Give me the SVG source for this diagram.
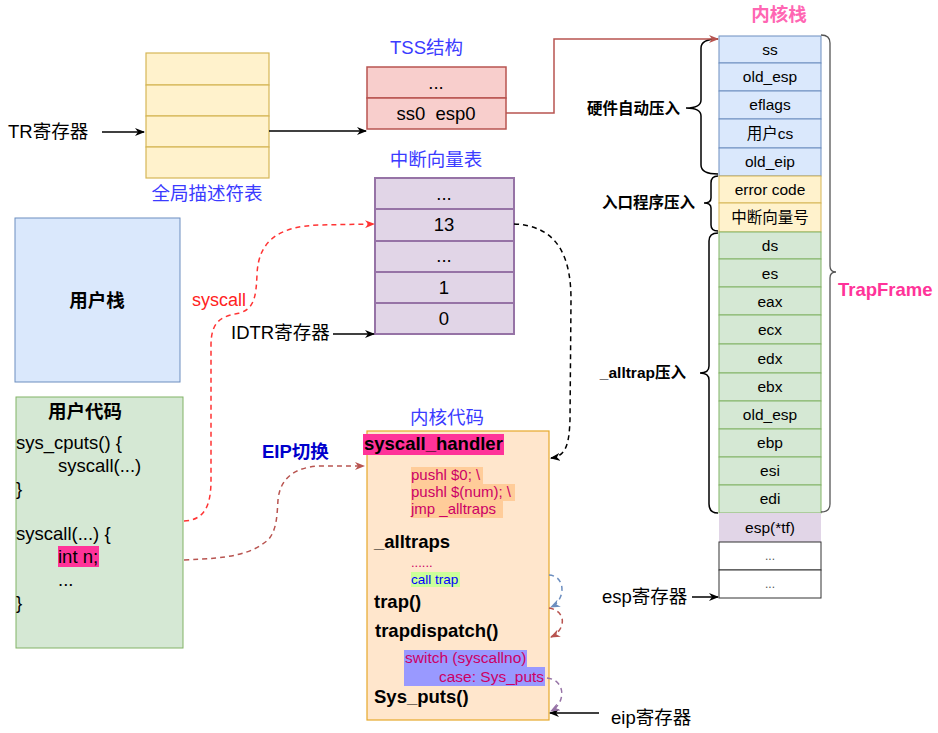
<svg xmlns="http://www.w3.org/2000/svg" width="938" height="733" viewBox="0 0 938 733">
<style>
text{font-family:"Liberation Sans","Noto Sans CJK SC",sans-serif;fill:#000}
.t18{font-size:18.5px}
.b18{font-size:18.5px;font-weight:bold}
.ks{font-size:15.5px;text-anchor:middle}
.bl{fill:#3b3bff}
.mid{text-anchor:middle}
.kc{font-size:15px;fill:#cc0066}
.lbl{font-size:15.5px;font-weight:bold;text-anchor:end}
.gdt{fill:#fff2cc;stroke:#d6b656;stroke-width:1.2}
.tss{fill:#f8cecc;stroke:#b85450;stroke-width:1.5}
.idt{fill:#e1d5e7;stroke:#9673a6;stroke-width:2}
.sb{fill:#dae8fc;stroke:#6c8ebf}
.sy{fill:#fff2cc;stroke:#d6b656}
.sg{fill:#d5e8d4;stroke:#82b366}
.sw{fill:#fff;stroke:#333}
.brace{fill:none;stroke:#000;stroke-width:1.5}
.ln{fill:none;stroke:#000;stroke-width:1.5}
.dsh{fill:none;stroke-width:1.5;stroke-dasharray:5 4}
</style>
<defs>
<marker id="aBlack" viewBox="0 0 10 8" refX="9" refY="4" markerWidth="10" markerHeight="8" markerUnits="userSpaceOnUse" orient="auto"><path d="M0,0 L10,4 L0,8 L3,4 Z" fill="#000"/></marker>
<marker id="aTss" viewBox="0 0 10 8" refX="9" refY="4" markerWidth="10" markerHeight="8" markerUnits="userSpaceOnUse" orient="auto"><path d="M0,0 L10,4 L0,8 L3,4 Z" fill="#b85450"/></marker>
<marker id="aRed" viewBox="0 0 10 8" refX="9" refY="4" markerWidth="10" markerHeight="8" markerUnits="userSpaceOnUse" orient="auto"><path d="M0,0 L10,4 L0,8 L3,4 Z" fill="#ff3333"/></marker>
<marker id="aBrown" viewBox="0 0 10 8" refX="9" refY="4" markerWidth="10" markerHeight="8" markerUnits="userSpaceOnUse" orient="auto"><path d="M0,0 L10,4 L0,8 L3,4 Z" fill="#b85450"/></marker>
<marker id="aBlue" viewBox="0 0 10 8" refX="9" refY="4" markerWidth="10" markerHeight="8" markerUnits="userSpaceOnUse" orient="auto"><path d="M0,0 L10,4 L0,8 L3,4 Z" fill="#6c8ebf"/></marker>
<marker id="aPurple" viewBox="0 0 10 8" refX="9" refY="4" markerWidth="10" markerHeight="8" markerUnits="userSpaceOnUse" orient="auto"><path d="M0,0 L10,4 L0,8 L3,4 Z" fill="#9673a6"/></marker>
<marker id="aOpen" viewBox="0 0 10 8" refX="9" refY="4" markerWidth="10" markerHeight="8" markerUnits="userSpaceOnUse" orient="auto"><path d="M0,0 L10,4 L0,8 L3,4 Z" fill="#000"/></marker>
</defs>
<rect width="938" height="733" fill="#fff"/>

<g id="tr">
<text class="t18" x="8" y="138">TR寄存器</text>
</g>

<g id="gdt">
<rect class="gdt" x="146" y="53" width="123" height="32"/>
<rect class="gdt" x="146" y="85" width="123" height="31"/>
<rect class="gdt" x="146" y="116" width="123" height="31"/>
<rect class="gdt" x="146" y="147" width="123" height="31"/>
<text class="t18 bl mid" x="207" y="200">全局描述符表</text>
</g>

<g id="tss">
<text class="t18 bl" x="390" y="54">TSS结构</text>
<rect class="tss" x="367" y="67" width="139" height="31"/>
<rect class="tss" x="367" y="98" width="139" height="31"/>
<text class="t18 mid" x="436" y="89">...</text>
<text class="t18 mid" x="436" y="120" style="white-space:pre">ss0  esp0</text>
</g>

<g id="idt">
<text class="t18 bl mid" x="436" y="166">中断向量表</text>
<rect class="idt" x="375" y="178" width="139" height="31"/>
<rect class="idt" x="375" y="209" width="139" height="32"/>
<rect class="idt" x="375" y="241" width="139" height="31"/>
<rect class="idt" x="375" y="272" width="139" height="31"/>
<rect class="idt" x="375" y="303" width="139" height="31"/>
<text class="t18 mid" x="444" y="200">...</text>
<text class="t18 mid" x="444" y="231">13</text>
<text class="t18 mid" x="444" y="262">...</text>
<text class="t18 mid" x="444" y="294">1</text>
<text class="t18 mid" x="444" y="325">0</text>
</g>

<g id="idtr">
<text class="t18" x="231" y="339">IDTR寄存器</text>
</g>

<g id="userstack">
<rect x="15" y="218" width="165" height="164" fill="#dae8fc" stroke="#6c8ebf"/>
<text class="b18 mid" x="97" y="307">用户栈</text>
</g>

<g id="usercode">
<rect x="16" y="397" width="167" height="251" fill="#d5e8d4" stroke="#82b366"/>
<text class="b18 mid" x="85" y="418">用户代码</text>
<rect x="58" y="546" width="41" height="21" fill="#ff3399"/>
<text class="t18" x="16" y="449">sys_cputs() {</text>
<text class="t18" x="58" y="472">syscall(...)</text>
<text class="t18" x="16" y="495">}</text>
<text class="t18" x="16" y="540">syscall(...) {</text>
<text class="t18" x="58" y="563">int n;</text>
<text class="t18" x="58" y="586">...</text>
<text class="t18" x="16" y="609">}</text>
</g>

<g id="kernelcode">
<text class="t18 bl mid" x="447" y="424">内核代码</text>
<rect x="367" y="431" width="182" height="289" fill="#ffe6cc" stroke="#e6a82a" stroke-width="1.2"/>
<rect x="363" y="434" width="141" height="21" fill="#ff3399"/>
<text class="b18" x="364" y="450">syscall_handler</text>
<rect x="411" y="467" width="72" height="17" fill="#ffcc99"/>
<rect x="411" y="484" width="104" height="17" fill="#ffcc99"/>
<rect x="411" y="501" width="92" height="17" fill="#ffcc99"/>
<text class="kc" x="411" y="480">pushl $0; \</text>
<text class="kc" x="411" y="497">pushl $(num); \</text>
<text class="kc" x="411" y="514">jmp _alltraps</text>
<text class="b18" x="374" y="548">_alltraps</text>
<text x="411" y="567" style="font-size:13px;fill:#cc0066">......</text>
<rect x="411" y="572" width="49" height="15" fill="#ccff99"/>
<text x="411" y="584" style="font-size:13.5px;fill:#0000ff">call trap</text>
<text class="b18" x="374" y="608">trap()</text>
<text class="b18" x="375" y="637">trapdispatch()</text>
<rect x="404" y="650" width="123" height="17" fill="#9999ff"/>
<rect x="404" y="667" width="141" height="19" fill="#9999ff"/>
<text x="405" y="663" style="font-size:15.5px;fill:#cc0066">switch (syscallno)</text>
<text x="439" y="682" style="font-size:15.5px;fill:#cc0066">case: Sys_puts</text>
<text class="b18" x="374" y="703">Sys_puts()</text>
</g>

<g id="kernelstack">
<text x="779" y="21" style="font-size:18.5px;font-weight:bold;fill:#ff66b3;text-anchor:middle">内核栈</text>
<rect class="sb" x="719" y="36" width="102" height="27"/>
<rect class="sb" x="719" y="63" width="102" height="28"/>
<rect class="sb" x="719" y="91" width="102" height="28"/>
<rect class="sb" x="719" y="119" width="102" height="29"/>
<rect class="sb" x="719" y="148" width="102" height="28"/>
<rect class="sy" x="719" y="176" width="102" height="27"/>
<rect class="sy" x="719" y="203" width="102" height="29"/>
<rect class="sg" x="719" y="232" width="102" height="27"/>
<rect class="sg" x="719" y="259" width="102" height="28"/>
<rect class="sg" x="719" y="287" width="102" height="28"/>
<rect class="sg" x="719" y="315" width="102" height="29"/>
<rect class="sg" x="719" y="344" width="102" height="29"/>
<rect class="sg" x="719" y="373" width="102" height="28"/>
<rect class="sg" x="719" y="401" width="102" height="28"/>
<rect class="sg" x="719" y="429" width="102" height="28"/>
<rect class="sg" x="719" y="457" width="102" height="28"/>
<rect class="sg" x="719" y="485" width="102" height="28"/>
<rect x="719" y="513" width="102" height="29" fill="#e1d5e7"/>
<rect class="sw" x="719" y="542" width="102" height="28"/>
<rect class="sw" x="719" y="570" width="102" height="28"/>
<text class="ks" x="770" y="55">ss</text>
<text class="ks" x="770" y="82">old_esp</text>
<text class="ks" x="770" y="110">eflags</text>
<text class="ks" x="770" y="139">用户cs</text>
<text class="ks" x="770" y="167">old_eip</text>
<text class="ks" x="770" y="195">error code</text>
<text class="ks" x="770" y="223">中断向量号</text>
<text class="ks" x="770" y="251">ds</text>
<text class="ks" x="770" y="279">es</text>
<text class="ks" x="770" y="307">eax</text>
<text class="ks" x="770" y="335">ecx</text>
<text class="ks" x="770" y="364">edx</text>
<text class="ks" x="770" y="392">ebx</text>
<text class="ks" x="770" y="420">old_esp</text>
<text class="ks" x="770" y="448">ebp</text>
<text class="ks" x="770" y="476">esi</text>
<text class="ks" x="770" y="504">edi</text>
<text class="ks" x="770" y="533">esp(*tf)</text>
<text x="770" y="560" style="font-size:12px;fill:#555;text-anchor:middle">...</text>
<text x="770" y="588" style="font-size:12px;fill:#555;text-anchor:middle">...</text>
</g>

<g id="braces">
<path class="brace" d="M718,39 Q701,39 701,48 L701,100 Q701,108 686,108 Q701,108 701,116 L701,165 Q701,174 718,174"/>
<path class="brace" d="M718,176 Q711,176 711,183 L711,198 Q711,203 704,203 Q711,203 711,208 L711,225 Q711,231 718,231"/>
<path class="brace" d="M718,233 Q709,233 709,241 L709,366 Q709,373 700,373 Q709,373 709,380 L709,504 Q709,513 718,513"/>
<path d="M821,35 Q830,35 830,43 L830,266 Q830,272 836,272 Q830,272 830,278 L830,504 Q830,512 821,512" fill="none" stroke="#555" stroke-width="1.3"/>
<text class="lbl" x="680" y="114">硬件自动压入</text>
<text class="lbl" x="695" y="208">入口程序压入</text>
<text class="lbl" x="686" y="378">_alltrap压入</text>
<text x="838" y="296" style="font-size:18.5px;font-weight:bold;fill:#ff3399">TrapFrame</text>
</g>

<g id="registers">
<text class="t18" x="602" y="603">esp寄存器</text>
<text class="t18" x="611" y="724">eip寄存器</text>
</g>

<g id="labels">
<text x="192" y="306" style="font-size:18px;fill:#ff2222">syscall</text>
<text x="262" y="458" style="font-size:18.5px;font-weight:bold;fill:#0000cc">EIP切换</text>
</g>

<g id="connectors">
<path class="ln" d="M102,132 L144,132" marker-end="url(#aBlack)"/>
<path class="ln" d="M269,131 L366,131" marker-end="url(#aBlack)"/>
<path class="ln" d="M333,334 L374,334" marker-end="url(#aBlack)"/>
<path d="M506,113 L554,113 L554,39 L718,39" fill="none" stroke="#b85450" stroke-width="1.5" marker-end="url(#aTss)"/>
<path class="ln" d="M692,597 L718,597" marker-end="url(#aBlack)"/>
<path class="ln" d="M599,713 L550,713" marker-end="url(#aBlack)"/>
<path class="dsh" stroke="#ff3333" d="M184,521 C205,520 211,505 211,480 L211,345 C211,318 225,316 240,313 C255,308 256,295 257,275 C258,240 280,226 320,225 L374,224" marker-end="url(#aRed)"/>
<path class="dsh" stroke="#b85450" d="M184,560 C230,558 250,555 268,540 C277,530 277,515 278,500 C280,478 295,467 320,466 L364,466" marker-end="url(#aBrown)"/>
<path class="dsh" stroke="#000" d="M514,224 C560,226 571,260 571,300 L570,420 C569,445 566,456 551,458" marker-end="url(#aOpen)"/>
<path class="dsh" stroke="#6c8ebf" d="M549,575 C566,576 566,600 551,607" marker-end="url(#aBlue)"/>
<path class="dsh" stroke="#b85450" d="M549,608 C567,611 566,630 551,637" marker-end="url(#aBrown)"/>
<path class="dsh" stroke="#9673a6" d="M547,678 C566,680 566,703 551,711" marker-end="url(#aPurple)"/>
</g>
</svg>
